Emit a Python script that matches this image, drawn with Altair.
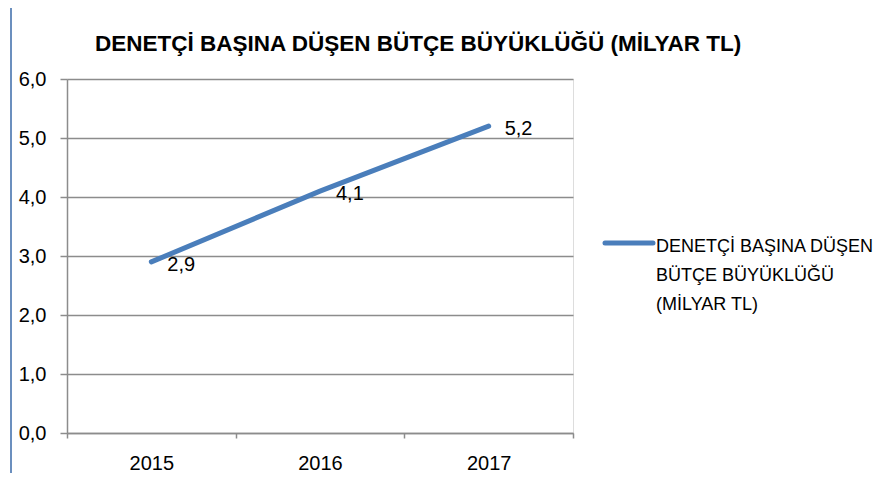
import altair as alt
import pandas as pd

years = ["2015", "2016", "2017"]
values = [2.9, 4.1, 5.2]
series_name = "DENETÇİ BAŞINA DÜŞEN BÜTÇE BÜYÜKLÜĞÜ (MİLYAR TL)"
legend_lines = ["DENETÇİ BAŞINA DÜŞEN", "BÜTÇE BÜYÜKLÜĞÜ", "(MİLYAR TL)"]
title_text = "DENETÇİ BAŞINA DÜŞEN BÜTÇE BÜYÜKLÜĞÜ (MİLYAR TL)"
y_ticks = [0, 1, 2, 3, 4, 5, 6]

df = pd.DataFrame({"year": years, "value": values, "series": series_name})

FONT = "Liberation Sans"
LINE_COLOR = "#4a7ebb"
GRID = "#8c8c8c"

x_enc = alt.X("year:N", sort=years,
              scale=alt.Scale(paddingInner=0, paddingOuter=0),
              axis=alt.Axis(title=None, labelAngle=0, labelFontSize=20, labelFont=FONT,
                            labelColor="#000000", tickBand="extent", tickSize=5,
                            tickColor=GRID, domainColor=GRID, domainWidth=1.5,
                            tickWidth=1.5, labelPadding=15, grid=False))
y_enc = alt.Y("value:Q",
              scale=alt.Scale(domain=[0, 6], nice=False),
              axis=alt.Axis(title=None, values=y_ticks, labelFontSize=20, labelFont=FONT,
                            labelColor="#000000",
                            labelExpr="replace(format(datum.value, '.1f'), '.', ',')",
                            tickSize=7, tickColor=GRID, tickWidth=1.5, domainColor=GRID,
                            domainWidth=1.5, labelPadding=14, grid=True,
                            gridColor=GRID, gridWidth=1.5))

base = alt.Chart(df)
one = base.transform_filter("datum.year == '2015'")

line = base.mark_line(color=LINE_COLOR, strokeWidth=5, strokeCap="round").encode(
    x=x_enc, y=y_enc)

labels = base.transform_calculate(
    lab="replace(format(datum.value, '.1f'), '.', ',')"
).mark_text(align="left", baseline="middle", dx=16, dy=3, fontSize=20,
            font=FONT, color="#000000").encode(
    x=alt.X("year:N", sort=years), y="value:Q", text="lab:N")

legend_sym = one.mark_rule(
    color=LINE_COLOR, strokeWidth=5, strokeCap="round").encode(
    x=alt.value(538), x2=alt.value(586), y=alt.value(164))

legend_txt = one.mark_text(
    align="left", baseline="alphabetic", fontSize=18, font=FONT,
    color="#000000", lineHeight=29).encode(
    x=alt.value(589), y=alt.value(173), text=alt.value(legend_lines))

title = one.mark_text(
    align="left", baseline="alphabetic", fontSize=22.5, font=FONT,
    fontWeight="bold", color="#000000").encode(
    x=alt.value(28), y=alt.value(-28), text=alt.value(title_text))

border = one.mark_rule(color="#3a6aa8", strokeWidth=1.5).encode(
    x=alt.value(-56), y=alt.value(-80), y2=alt.value(420))

chart = alt.layer(border, line, labels, legend_sym, legend_txt, title).properties(
    width=506, height=354,
    autosize=alt.AutoSizeParams(type="none"),
    padding={"left": 59, "top": 71, "right": 303, "bottom": 40},
).configure_view(stroke=None).configure(background="white")

chart.save("out.html", embed_options={"renderer": "svg", "actions": False})
